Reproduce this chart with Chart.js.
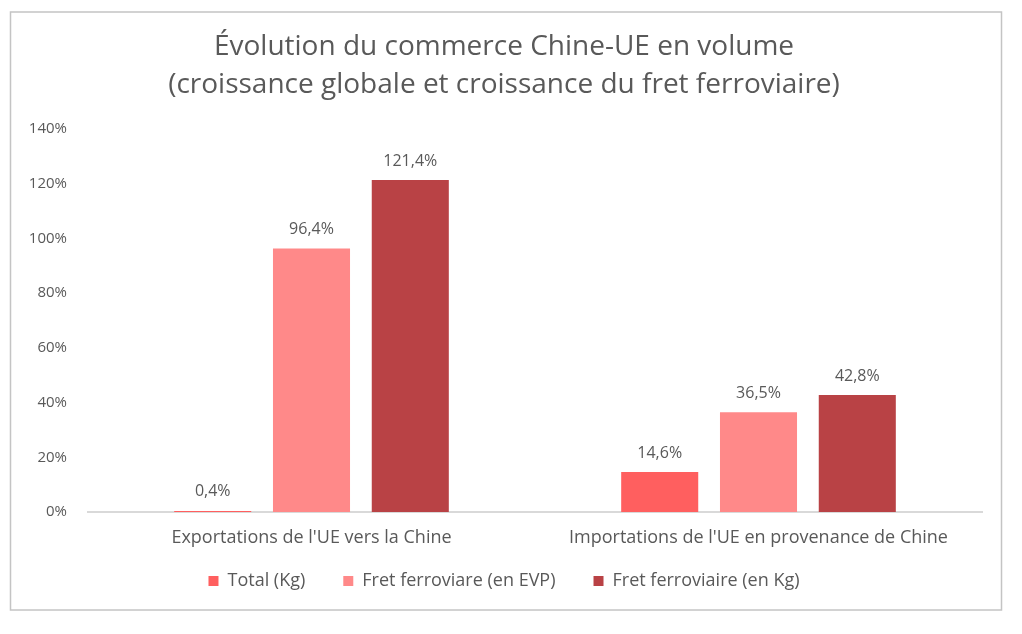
<!DOCTYPE html>
<html>
<head>
<meta charset="utf-8">
<script src="https://cdn.jsdelivr.net/npm/chart.js@4"></script>
<style>
  html, body { margin: 0; padding: 0; background: #fff; }
  #wrap { width: 1022px; height: 634px; }
</style>
</head>
<body>
<div id="wrap"><canvas id="tradeChart" width="1022" height="634"></canvas></div>
<script>
// Données
const categories = ["Exportations de l'UE vers la Chine", "Importations de l'UE en provenance de Chine"];
const seriesNames = ['Total (Kg)', 'Fret ferroviare (en EVP)', 'Fret ferroviaire (en Kg)'];
const totalKg = [0.4, 14.6];
const fretEvp = [96.4, 36.5];
const fretKg = [121.4, 42.8];
const yTicks = [0, 20, 40, 60, 80, 100, 120, 140];

const colors = ['#FF5F5F', '#FF8989', '#B94245'];
const textColor = '#595959';
const fontFamily = '"Open Sans", sans-serif';

const fmt = v => v.toFixed(1).replace('.', ',') + '%';

// bordure autour du graphique
const frame = {
  id: 'frame',
  beforeDraw(chart) {
    const c = chart.ctx;
    c.save();
    c.fillStyle = '#fff';
    c.fillRect(0, 0, chart.width, chart.height);
    c.strokeStyle = '#c4c4c4';
    c.lineWidth = 1.5;
    c.strokeRect(10.5, 12, 991, 598);
    c.restore();
  }
};

// étiquettes de valeurs au-dessus des barres
const valueLabels = {
  id: 'valueLabels',
  afterDatasetsDraw(chart) {
    const c = chart.ctx;
    c.save();
    c.font = '16px ' + fontFamily;
    c.fillStyle = textColor;
    c.textAlign = 'center';
    c.textBaseline = 'middle';
    chart.data.datasets.forEach((ds, i) => {
      chart.getDatasetMeta(i).data.forEach((bar, j) => {
        c.fillText(fmt(ds.data[j]), bar.x, bar.y - 19);
      });
    });
    c.restore();
  }
};

new Chart(document.getElementById('tradeChart'), {
  type: 'bar',
  data: {
    labels: categories,
    datasets: [
      { label: seriesNames[0], data: totalKg, backgroundColor: colors[0] },
      { label: seriesNames[1], data: fretEvp, backgroundColor: colors[1] },
      { label: seriesNames[2], data: fretKg, backgroundColor: colors[2] }
    ]
  },
  options: {
    responsive: false,
    animation: false,
    devicePixelRatio: 1,
    categoryPercentage: 0.663,
    barPercentage: 0.78,
    layout: { padding: { left: 26, right: 40, top: 28, bottom: 34 } },
    plugins: {
      title: {
        display: true,
        text: ['Évolution du commerce Chine-UE en volume', '(croissance globale et croissance du fret ferroviaire)'],
        color: textColor,
        font: { family: fontFamily, size: 28, weight: 'normal', lineHeight: 1.36 },
        padding: { top: 0, bottom: 25 }
      },
      legend: {
        position: 'bottom',
        labels: {
          color: textColor,
          font: { family: fontFamily, size: 18 },
          boxWidth: 10,
          boxHeight: 10,
          padding: 38
        }
      },
      tooltip: { enabled: false }
    },
    scales: {
      x: {
        z: 1,
        afterFit(scale) { scale.height = 22; },
        grid: { display: false },
        border: { display: true, color: '#d9d9d9', width: 2 },
        ticks: { color: textColor, font: { family: fontFamily, size: 18 }, mirror: true, padding: -37 }
      },
      y: {
        min: 0,
        max: 140,
        afterBuildTicks(scale) { scale.ticks = yTicks.map(v => ({ value: v })); },
        afterFit(scale) { scale.width = 62; },
        grid: { display: false, drawTicks: false },
        border: { display: false },
        ticks: {
          color: textColor,
          font: { family: fontFamily, size: 15 },
          padding: 21,
          callback: v => v + '%'
        }
      }
    }
  },
  plugins: [frame, valueLabels]
});
</script>
</body>
</html>
